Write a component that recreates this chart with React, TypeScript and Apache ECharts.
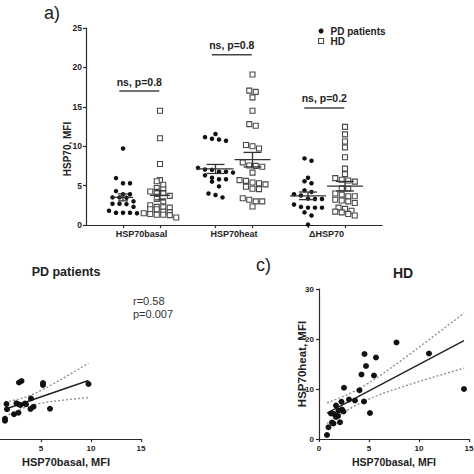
import React, { useEffect, useRef } from "react";
import * as echarts from "echarts";

const FONT = "'Liberation Sans', Arial, Helvetica, sans-serif";

// ---------- Panel a: dot plot ----------
const groupLabels = ["HSP70basal", "HSP70heat", "ΔHSP70"];
const cohortNames = ["PD patients", "HD"];
const pdBasal = [9.7, 5.95, 5.3, 5.3, 4.3, 3.9, 3.9, 3.5, 3.45, 3.5, 3.0, 2.7, 2.7, 2.65, 2.3, 1.8, 1.55, 1.55, 1.55, 1.5];
const hdBasal = [14.5, 11.0, 7.75, 5.7, 5.55, 5.1, 4.7, 4.5, 4.25, 4.2, 4.05, 3.7, 3.3, 3.0, 2.5, 2.3, 2.25, 2.2, 2.0, 2.0, 1.7, 1.6, 1.5, 1.4, 1.3, 1.3, 1.25, 0.95];
const pdHeat = [11.55, 11.15, 10.95, 10.85, 10.7, 7.25, 7.05, 7.0, 6.75, 6.75, 6.65, 6.3, 6.0, 5.8, 5.8, 5.5, 4.9, 4.0, 3.8, 3.5];
const hdHeat = [19.1, 17.05, 16.9, 16.2, 14.5, 12.8, 12.6, 10.15, 10.0, 9.7, 7.95, 7.55, 7.5, 7.4, 6.65, 5.7, 5.6, 5.4, 5.3, 5.15, 4.85, 4.6, 4.55, 3.4, 3.2, 3.0, 3.0, 2.35];
const pdDelta = [8.45, 8.15, 6.0, 5.55, 5.3, 4.4, 4.2, 3.9, 3.75, 3.35, 3.3, 3.3, 2.6, 2.3, 2.2, 2.2, 2.2, 1.6, 1.2, 0.05];
const hdDelta = [12.45, 11.5, 10.6, 9.85, 8.6, 7.15, 6.45, 5.95, 5.75, 5.65, 5.5, 4.65, 4.6, 4.0, 3.85, 3.65, 3.65, 3.2, 3.1, 3.0, 2.8, 2.2, 2.05, 1.8, 1.7, 1.6, 1.4, 1.2];
const pLabels = ["ns, p=0.8", "ns, p=0.8", "ns, p=0.2"];
const pLevels = [17.0, 21.6, 14.85];

// ---------- Panels b, c: correlations ----------
const pdCorrBasal = [2.8, 3.05, 5.2, 5.2, 9.75, 1.55, 1.6, 2.55, 2.8, 2.95, 3.4, 3.5, 4.0, 3.95, 4.25, 2.75, 2.3, 1.4, 1.4, 5.9];
const pdCorrHeat = [11.3, 11.6, 11.2, 10.8, 11.0, 7.0, 5.95, 7.15, 6.9, 6.8, 7.1, 6.95, 8.1, 6.0, 6.45, 5.25, 4.95, 4.05, 3.65, 6.05];
const hdCorrBasal = [7.75, 4.55, 5.7, 4.7, 4.25, 5.5, 11.0, 14.5, 2.5, 4.05, 3.0, 3.6, 2.25, 4.5, 5.1, 1.7, 2.3, 2.45, 1.2, 1.5, 1.7, 1.9, 1.3, 1.45, 2.1, 0.95, 0.8, 1.95];
const hdCorrHeat = [19.3, 17.0, 16.3, 14.6, 12.9, 12.7, 17.1, 10.0, 10.25, 9.75, 7.9, 7.7, 7.45, 7.5, 5.2, 6.7, 5.9, 5.5, 5.1, 5.0, 4.4, 4.6, 3.3, 3.1, 3.35, 2.35, 0.8, 5.65];
const pdCorrStats = ["r=0.58", "p=0.007"];

// ---------- layout ----------
const TOP = { left: 86, top: 28, width: 296, height: 197 };
const X_MAX_TOP = 8;
const Y_MAX_TOP = 25;
const colPos = [1, 2, 3.5, 4.5, 6, 7];
const labelPos = [0, 1, 2].map((i) => (colPos[2 * i] + colPos[2 * i + 1]) / 2);
const meanHalfWidth = [10, 18, 18];

// GraphPad-like layout: points grouped into rows of close values, spread horizontally
function rowLayout(values: number[], center: number, step: number, rowH: number): number[][] {
  const pxX = TOP.width / X_MAX_TOP;
  const pxY = TOP.height / Y_MAX_TOP;
  const order = values.map((_, i) => i).sort((a, b) => values[a] - values[b]);
  const out: number[][] = new Array(values.length);
  let row: number[] = [];
  let start = -Infinity;
  const flush = () => {
    const r = row.slice().sort((a, b) => values[b] - values[a]);
    r.forEach((idx, j) => {
      const off = (j - (r.length - 1) / 2) * step;
      out[idx] = [center + off / pxX, values[idx]];
    });
  };
  for (const i of order) {
    const y = values[i] * pxY;
    if (row.length && y - start < rowH) row.push(i);
    else {
      if (row.length) flush();
      row = [i];
      start = y;
    }
  }
  if (row.length) flush();
  return out;
}

function meanSem(v: number[]) {
  const n = v.length;
  const m = v.reduce((a, b) => a + b, 0) / n;
  const sd = Math.sqrt(v.reduce((a, b) => a + (b - m) * (b - m), 0) / (n - 1));
  return [m, sd / Math.sqrt(n)];
}

function tCrit(df: number) {
  const z = 1.959964;
  return z + (z ** 3 + z) / (4 * df) + (5 * z ** 5 + 16 * z ** 3 + 3 * z) / (96 * df * df);
}

function regression(xs: number[], ys: number[]) {
  const n = xs.length;
  const mx = xs.reduce((a, b) => a + b, 0) / n;
  const my = ys.reduce((a, b) => a + b, 0) / n;
  let sxx = 0, sxy = 0, syy = 0;
  for (let i = 0; i < n; i++) {
    sxx += (xs[i] - mx) ** 2;
    sxy += (xs[i] - mx) * (ys[i] - my);
    syy += (ys[i] - my) ** 2;
  }
  const b = sxy / sxx;
  const a = my - b * mx;
  const s = Math.sqrt((syy - b * sxy) / (n - 2));
  const t = tCrit(n - 2);
  const x0 = Math.min(...xs);
  const x1 = Math.max(...xs);
  const fit = [[x0, a + b * x0], [x1, a + b * x1]];
  const upper: number[][] = [];
  const lower: number[][] = [];
  const N = 40;
  for (let k = 0; k <= N; k++) {
    const x = x0 + ((x1 - x0) * k) / N;
    const yh = a + b * x;
    const h = t * s * Math.sqrt(1 / n + ((x - mx) ** 2) / sxx);
    upper.push([x, yh + h]);
    lower.push([x, yh - h]);
  }
  return { fit, upper, lower };
}

const groupsPD = [pdBasal, pdHeat, pdDelta];
const groupsHD = [hdBasal, hdHeat, hdDelta];

const pdPoints = groupsPD.flatMap((g, i) => rowLayout(g, colPos[2 * i], 7, 5.5));
const hdPoints = groupsHD.flatMap((g, i) => rowLayout(g, colPos[2 * i + 1], 6.5, 4.5));

const meanData: number[][] = [];
[0, 1, 2].forEach((i) => {
  [groupsPD[i], groupsHD[i]].forEach((g, j) => {
    const [m, se] = meanSem(g);
    meanData.push([colPos[2 * i + j], m, se, meanHalfWidth[i]]);
  });
});

const pBarData = [0, 1, 2].map((i) => [colPos[2 * i] - 0.1, colPos[2 * i + 1] - 0.02, pLevels[i], i]);

const pdReg = regression(pdCorrBasal, pdCorrHeat);
const hdReg = regression(hdCorrBasal, hdCorrHeat);

const AX = "#2b2b2b";
const axisLineStyle = { lineStyle: { color: AX, width: 1.2 } };
const tickStyle = { lineStyle: { color: AX, width: 1.2 } };
const hdItemStyle = { color: "#ffffff", borderColor: "#4a4a4a", borderWidth: 1.1, opacity: 1 };
const pdItemStyle = { color: "#111111", opacity: 1 };

function buildOption(): any {
  const dotted = { color: "#8a8a8a", width: 1.3, type: [2, 2] as any };
  return {
    animation: false,
    backgroundColor: "#ffffff",
    textStyle: { fontFamily: FONT },
    legend: {
      data: [
        { name: cohortNames[0], icon: "circle", itemStyle: pdItemStyle },
        { name: cohortNames[1], icon: "rect", itemStyle: hdItemStyle },
      ],
      orient: "vertical",
      left: 313,
      top: 21,
      itemWidth: 5,
      itemHeight: 5,
      itemGap: 0,
      selectedMode: false,
      textStyle: { fontSize: 10, fontWeight: "bold", color: "#222", fontFamily: FONT, padding: [0, 0, 0, 2] },
    },
    grid: [
      { ...TOP, outerBoundsMode: "none" },
      { left: -9, top: 289, width: 150, height: 150, outerBoundsMode: "none" },
      { left: 319, top: 289, width: 150, height: 150, outerBoundsMode: "none" },
    ],
    xAxis: [
      {
        gridIndex: 0,
        type: "value",
        min: 0,
        max: X_MAX_TOP,
        splitLine: { show: false },
        axisLine: axisLineStyle,
        axisTick: { customValues: colPos, length: 3, ...tickStyle },
        axisLabel: {
          customValues: labelPos,
          formatter: (v: number) => {
            const k = labelPos.findIndex((p) => Math.abs(p - v) < 1e-6);
            return k >= 0 ? groupLabels[k] : "";
          },
          fontSize: 9,
          fontWeight: "bold",
          color: "#222",
          margin: 4,
          fontFamily: FONT,
        },
      },
      {
        gridIndex: 1,
        type: "value",
        min: 0,
        max: 15,
        interval: 5,
        splitLine: { show: false },
        axisLine: axisLineStyle,
        axisTick: { length: 3, ...tickStyle },
        axisLabel: {
          fontSize: 8,
          fontWeight: "bold",
          color: "#222",
          margin: 5,
          showMinLabel: false,
          fontFamily: FONT,
        },
        name: "HSP70basal, MFI",
        nameLocation: "middle",
        nameGap: 17,
        nameTextStyle: { fontSize: 11, fontWeight: "bold", color: "#222", fontFamily: FONT },
      },
      {
        gridIndex: 2,
        type: "value",
        min: 0,
        max: 15,
        interval: 5,
        splitLine: { show: false },
        axisLine: axisLineStyle,
        axisTick: { length: 3, ...tickStyle },
        axisLabel: { fontSize: 8, fontWeight: "bold", color: "#222", margin: 5, fontFamily: FONT },
        name: "HSP70basal, MFI",
        nameLocation: "middle",
        nameGap: 17,
        nameTextStyle: { fontSize: 10.5, fontWeight: "bold", color: "#222", fontFamily: FONT },
      },
    ],
    yAxis: [
      {
        gridIndex: 0,
        type: "value",
        min: 0,
        max: Y_MAX_TOP,
        interval: 5,
        splitLine: { show: false },
        axisLine: { show: true, ...axisLineStyle },
        axisTick: { show: true, length: 3, ...tickStyle },
        axisLabel: { fontSize: 8.5, fontWeight: "bold", color: "#222", margin: 4, fontFamily: FONT },
      },
      {
        gridIndex: 1,
        type: "value",
        min: 0,
        max: 30,
        show: false,
      },
      {
        gridIndex: 2,
        type: "value",
        min: 0,
        max: 30,
        interval: 10,
        splitLine: { show: false },
        axisLine: { show: true, ...axisLineStyle },
        axisTick: { show: true, length: 3, ...tickStyle },
        axisLabel: { fontSize: 8, fontWeight: "bold", color: "#222", margin: 5, fontFamily: FONT },
      },
    ],
    series: [
      {
        name: cohortNames[0],
        type: "scatter",
        xAxisIndex: 0,
        yAxisIndex: 0,
        symbol: "circle",
        symbolSize: 4.5,
        itemStyle: pdItemStyle,
        data: pdPoints,
        z: 2,
      },
      {
        name: cohortNames[1],
        type: "scatter",
        xAxisIndex: 0,
        yAxisIndex: 0,
        symbol: "rect",
        symbolSize: 5,
        itemStyle: hdItemStyle,
        data: hdPoints,
        z: 2,
      },
      {
        name: "meanSEM",
        type: "custom",
        xAxisIndex: 0,
        yAxisIndex: 0,
        z: 3,
        data: meanData,
        encode: { x: 0, y: 1 },
        renderItem: (_p: any, api: any) => {
          const c = api.value(0), m = api.value(1), s = api.value(2), hw = api.value(3);
          const pm = api.coord([c, m]);
          const pu = api.coord([c, m + s]);
          const pl = api.coord([c, m - s]);
          const st = { stroke: "#333", lineWidth: 1.3 };
          return {
            type: "group",
            children: [
              { type: "line", shape: { x1: pm[0] - hw, y1: pm[1], x2: pm[0] + hw, y2: pm[1] }, style: st },
              { type: "line", shape: { x1: pu[0], y1: pu[1], x2: pl[0], y2: pl[1] }, style: st },
              { type: "line", shape: { x1: pu[0] - hw / 2, y1: pu[1], x2: pu[0] + hw / 2, y2: pu[1] }, style: st },
              { type: "line", shape: { x1: pl[0] - hw / 2, y1: pl[1], x2: pl[0] + hw / 2, y2: pl[1] }, style: st },
            ],
          };
        },
      },
      {
        name: "pBars",
        type: "custom",
        xAxisIndex: 0,
        yAxisIndex: 0,
        z: 3,
        data: pBarData,
        encode: { x: [0, 1], y: 2 },
        renderItem: (_p: any, api: any) => {
          const a = api.coord([api.value(0), api.value(2)]);
          const b = api.coord([api.value(1), api.value(2)]);
          const idx = api.value(3);
          return {
            type: "group",
            children: [
              { type: "line", shape: { x1: a[0], y1: a[1], x2: b[0], y2: b[1] }, style: { stroke: "#444", lineWidth: 1.6 } },
              {
                type: "text",
                x: (a[0] + b[0]) / 2,
                y: a[1] - 4,
                style: {
                  text: pLabels[idx],
                  textAlign: "center",
                  textVerticalAlign: "bottom",
                  font: `bold 10.5px ${FONT}`,
                  fill: "#222",
                },
              },
            ],
          };
        },
      },
      // Panel b (PD patients)
      {
        name: "pdCorr",
        type: "scatter",
        xAxisIndex: 1,
        yAxisIndex: 1,
        symbol: "circle",
        symbolSize: 6,
        itemStyle: pdItemStyle,
        data: pdCorrBasal.map((x, i) => [x, pdCorrHeat[i]]),
        z: 3,
      },
      {
        name: "pdFit",
        type: "line",
        xAxisIndex: 1,
        yAxisIndex: 1,
        showSymbol: false,
        data: pdReg.fit,
        lineStyle: { color: "#222", width: 1.5 },
      },
      { name: "pdUp", type: "line", xAxisIndex: 1, yAxisIndex: 1, showSymbol: false, data: pdReg.upper, lineStyle: dotted },
      { name: "pdLo", type: "line", xAxisIndex: 1, yAxisIndex: 1, showSymbol: false, data: pdReg.lower, lineStyle: dotted },
      // Panel c (HD)
      {
        name: "hdCorr",
        type: "scatter",
        xAxisIndex: 2,
        yAxisIndex: 2,
        symbol: "circle",
        symbolSize: 6,
        itemStyle: pdItemStyle,
        data: hdCorrBasal.map((x, i) => [x, hdCorrHeat[i]]),
        z: 3,
      },
      {
        name: "hdFit",
        type: "line",
        xAxisIndex: 2,
        yAxisIndex: 2,
        showSymbol: false,
        data: hdReg.fit,
        lineStyle: { color: "#222", width: 1.5 },
      },
      { name: "hdUp", type: "line", xAxisIndex: 2, yAxisIndex: 2, showSymbol: false, data: hdReg.upper, lineStyle: dotted },
      { name: "hdLo", type: "line", xAxisIndex: 2, yAxisIndex: 2, showSymbol: false, data: hdReg.lower, lineStyle: dotted },
    ],
    graphic: [
      { type: "text", left: 44, top: 4, style: { text: "a)", font: `18px ${FONT}`, fill: "#222" } },
      { type: "text", left: 256, top: 256, style: { text: "c)", font: `18px ${FONT}`, fill: "#222" } },
      {
        type: "text",
        x: 67,
        y: 149,
        rotation: Math.PI / 2,
        style: { text: "HSP70, MFI", font: `bold 10px ${FONT}`, fill: "#222", textAlign: "center", textVerticalAlign: "middle" },
      },
      {
        type: "text",
        x: 302,
        y: 364,
        rotation: Math.PI / 2,
        style: { text: "HSP70heat, MFI", font: `bold 11.5px ${FONT}`, fill: "#222", textAlign: "center", textVerticalAlign: "middle" },
      },
      {
        type: "text",
        x: 66,
        y: 272,
        style: { text: "PD patients", font: `bold 12.5px ${FONT}`, fill: "#222", textAlign: "center", textVerticalAlign: "middle" },
      },
      {
        type: "text",
        x: 403,
        y: 273,
        style: { text: "HD", font: `bold 14px ${FONT}`, fill: "#222", textAlign: "center", textVerticalAlign: "middle" },
      },
      {
        type: "text",
        x: 133,
        y: 301,
        style: { text: pdCorrStats[0], font: `11px ${FONT}`, fill: "#333", textAlign: "left", textVerticalAlign: "middle" },
      },
      {
        type: "text",
        x: 133,
        y: 314,
        style: { text: pdCorrStats[1], font: `11px ${FONT}`, fill: "#333", textAlign: "left", textVerticalAlign: "middle" },
      },
    ],
  };
}

export default function App() {
  const ref = useRef<HTMLDivElement>(null);
  useEffect(() => {
    if (!ref.current) return;
    const chart = echarts.init(ref.current, null, { renderer: "svg" });
    chart.setOption(buildOption());
    return () => chart.dispose();
  }, []);
  return (
    <div
      ref={ref}
      style={{ position: "absolute", left: 0, top: 0, width: 474, height: 474, background: "#fff" }}
    />
  );
}
